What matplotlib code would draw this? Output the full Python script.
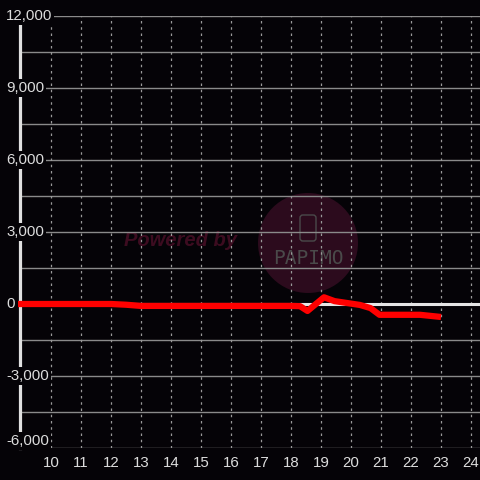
import matplotlib
matplotlib.use("Agg")
import matplotlib.pyplot as plt
from matplotlib.patches import Circle, FancyBboxPatch
from matplotlib.transforms import blended_transform_factory

# dados
horas = [8.9, 12, 12.5, 13, 18, 18.3, 18.55, 19.1, 19.45, 20.3, 20.65, 20.95, 22.3, 23]
valores = [0, 0, -30, -80, -80, -90, -290, 280, 120, -40, -170, -450, -450, -540]

x_ticks = list(range(10, 25))
y_ticks = [-6000, -3000, 0, 3000, 6000, 9000, 12000]
y_grid = list(range(-6000, 12001, 1500))

fundo = "#050307"
cor_texto = "#dddddd"

fig = plt.figure(figsize=(4.8, 4.8), dpi=100, facecolor=fundo)
ax = fig.add_axes([20 / 480, 32 / 480, 460 / 480, 432 / 480], facecolor=fundo)
ax.set_xlim(10 - 31 / 30, 10 + 429 / 30)
ax.set_ylim(-6000, 12000)
ax.autoscale(False)

# grades
for y in y_grid:
    ax.axhline(y, color="#8a8a8a", lw=1, zorder=1.5)
for x in x_ticks:
    ax.axvline(x, color="#9a9a9a", lw=0.9, ls=(0, (2, 3)), zorder=1.5)

# marca d'agua
ax.add_patch(Circle((308 / 480, 1 - 243 / 480), 50 / 480, transform=fig.transFigure,
                    facecolor="#2c0b1d", edgecolor="none", zorder=0.5))
ax.add_patch(FancyBboxPatch((300 / 480, 1 - 241 / 480), 16 / 480, 26 / 480,
                            boxstyle="round,pad=0,rounding_size=0.006",
                            transform=fig.transFigure, facecolor="none",
                            edgecolor="#4a4a4a", lw=1, zorder=0.6))
ax.text(180 / 480, 1 - 241 / 480, "Powered by", transform=fig.transFigure,
        ha="center", va="center", fontsize=14.5, fontstyle="italic",
        fontweight="bold", color="#3d0c20", family="Liberation Sans", zorder=0.6)
ax.text(308 / 480, 1 - 258 / 480, "PAPIMO", transform=fig.transFigure,
        ha="center", va="center", fontsize=14, color="#4a4a4a",
        family="DejaVu Sans Mono", zorder=0.6)

# linha do zero e serie
ax.axhline(0, color="#e6e6e6", lw=2.2, zorder=2)
ax.plot(horas, valores, color="#ff0000", lw=4.5, solid_joinstyle="round",
        solid_capstyle="butt", zorder=3, clip_on=False)

for s in ["top", "right", "bottom"]:
    ax.spines[s].set_visible(False)
ax.spines["left"].set_color("#e0e0e0")
ax.spines["left"].set_linewidth(2.3)
ax.spines["left"].set_zorder(2.6)

ax.set_xticks(x_ticks)
ax.set_xticklabels([str(x) for x in x_ticks], family="Liberation Sans",
                   fontsize=10.8, color=cor_texto)
ax.tick_params(axis="x", length=0, pad=6)
ax.set_yticks([])

# rotulos do eixo y por cima da linha do eixo
trans = blended_transform_factory(fig.transFigure, ax.transData)
for y in y_ticks:
    va = "bottom" if y == y_ticks[0] else "center"
    ax.text(6 / 480, y, f"{y:,}", transform=trans, ha="left", va=va,
            fontsize=10.8, color=cor_texto, family="Liberation Sans",
            bbox=dict(facecolor=fundo, edgecolor="none", pad=1.5),
            zorder=5, clip_on=False)

fig.savefig("out.png", dpi=100, facecolor=fundo)
